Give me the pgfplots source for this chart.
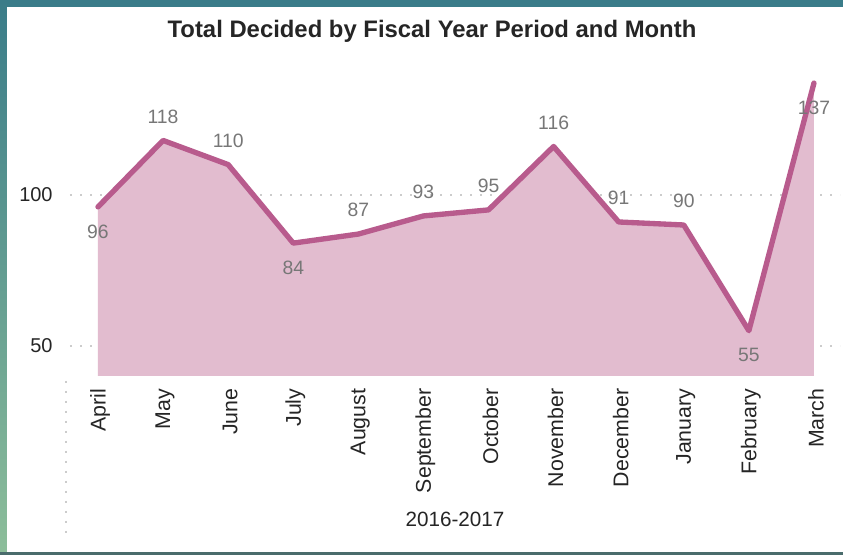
\documentclass[border=0pt]{standalone}
\usepackage{pgfplots}
\pgfplotsset{compat=1.18}
\usepackage{pgfplotstable}
\usepackage{fontspec}
\setmainfont{Liberation Sans}
\definecolor{linec}{HTML}{B85B8D}
\definecolor{fillc}{HTML}{E2BCCF}
\definecolor{labc}{HTML}{777777}
\definecolor{tealA}{HTML}{3A7C89}
\definecolor{greenA}{HTML}{8DBE9A}
\definecolor{botA}{HTML}{4A6C6C}
\definecolor{txt}{HTML}{252525}
\definecolor{gridc}{HTML}{CCCCCC}

\pgfplotstableread{
i v
0 96
1 118
2 110
3 84
4 87
5 93
6 95
7 116
8 91
9 90
10 55
11 137
}\alldata

\pgfplotstableread{
i v
1 118
2 110
4 87
5 93
6 95
7 116
8 91
9 90
}\above

\pgfplotstableread{
i v
0 96
3 84
10 55
11 137
}\below

\begin{document}
\begin{tikzpicture}
\begin{scope}[x=0.75pt,y=0.75pt]
\useasboundingbox (0,0) rectangle (843,555);
\fill[tealA] (0,0) rectangle (843,555);
\shade[top color=tealA, bottom color=greenA] (0,0) rectangle (7,555);
\fill[botA] (0,0) rectangle (843,3);
\fill[white] (7,3) rectangle (843,548);
\node[font=\bfseries\fontsize{17.9}{20}\selectfont, text=txt] at (432,524) {Total Decided by Fiscal Year Period and Month};
\draw[gridc, line width=1.2pt, dash pattern=on 1.2pt off 6.3pt] (66,174) -- (66,22);
\node[font=\fontsize{15.5}{18}\selectfont, text=txt] at (455,36) {2016-2017};
\end{scope}
\begin{axis}[
  at={(52.5pt,134.25pt)}, anchor=south west,
  scale only axis, width=577.5pt, height=237pt,
  xmin=-0.43, xmax=11.4, ymin=40, ymax=144.64,
  /pgf/number format/assume math mode=true,
  axis line style={draw=none}, tick style={draw=none},
  xtick={0,...,11},
  xticklabels={April,May,June,July,August,September,October,November,December,January,February,March},
  x tick label style={rotate=90, anchor=east, font=\fontsize{16}{18}\selectfont, text=txt, xshift=-6pt, yshift=-1.5pt},
  ytick={50,100},
  y tick label style={font=\fontsize{15}{18}\selectfont, text=txt, xshift=-9.5pt},
  ymajorgrids,
  grid style={gridc, line width=1.4pt, dash pattern=on 1.4pt off 6.1pt},
  clip mode=individual,
]
\addplot[draw=none, fill=fillc] table[x=i,y=v]{\alldata} \closedcycle;
\addplot[linec, line width=4pt, line join=round, line cap=round] table[x=i,y=v]{\alldata};
\addplot[draw=none, mark=none, nodes near coords, point meta=y,
  every node near coord/.style={anchor=center, yshift=18pt, font=\fontsize{14.5}{17}\selectfont, text=labc}]
  table[x=i,y=v]{\above};
\addplot[draw=none, mark=none, nodes near coords, point meta=y,
  every node near coord/.style={anchor=center, yshift=-18.5pt, font=\fontsize{14.5}{17}\selectfont, text=labc}]
  table[x=i,y=v]{\below};
\end{axis}
\end{tikzpicture}
\end{document}
